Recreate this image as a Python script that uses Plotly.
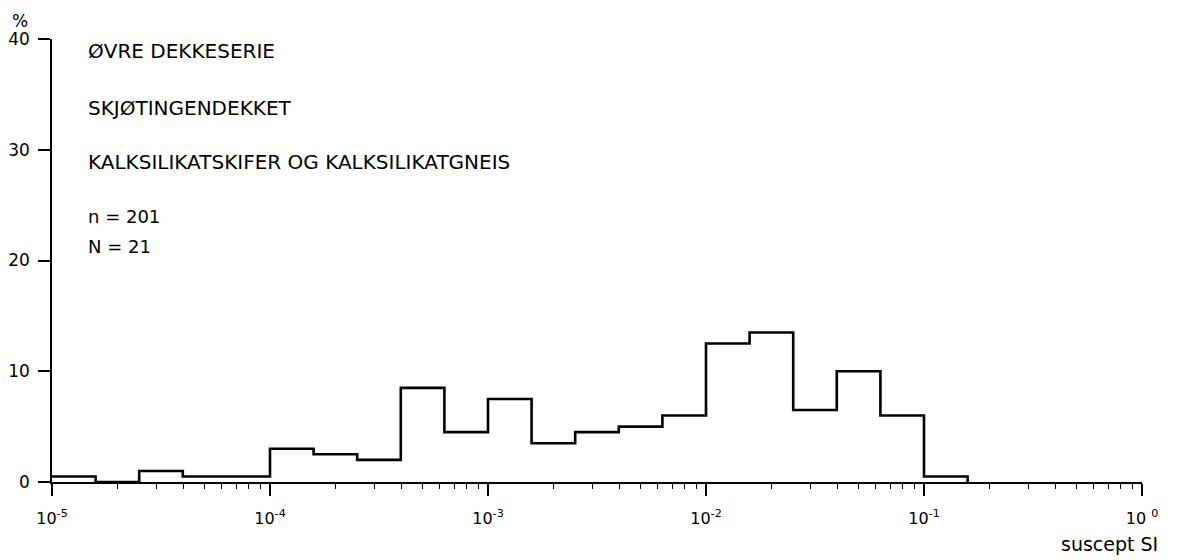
import plotly.graph_objects as go

# Bin edges (log10 of susceptibility, SI), 0.2-decade classes
bin_edges_log = [-5.0, -4.8, -4.6, -4.4, -4.2, -4.0, -3.8, -3.6, -3.4, -3.2,
                 -3.0, -2.8, -2.6, -2.4, -2.2, -2.0, -1.8, -1.6, -1.4, -1.2,
                 -1.0, -0.8]
# Percentage of samples in each class
percent = [0.5, 0.0, 1.0, 0.5, 0.5, 3.0, 2.5, 2.0, 8.5, 4.5,
           7.5, 3.5, 4.5, 5.0, 6.0, 12.5, 13.5, 6.5, 10.0, 6.0,
           0.5]

decade_exponents = [-5, -4, -3, -2, -1, 0]
decade_labels = ["10<sup>-5</sup>", "10<sup>-4</sup>", "10<sup>-3</sup>",
                 "10<sup>-2</sup>", "10<sup>-1</sup>", "10 <sup>0</sup>"]
y_ticks = [0, 10, 20, 30, 40]

title_lines = ["ØVRE DEKKESERIE", "SKJØTINGENDEKKET",
               "KALKSILIKATSKIFER OG KALKSILIKATGNEIS"]
count_lines = ["n = 201", "N = 21"]

FONT = "DejaVu Sans"

edges = [10 ** e for e in bin_edges_log]
step_y = percent + [0.0]

major_vals = [10.0 ** e for e in decade_exponents]
minor_vals = [m * 10.0 ** e for e in decade_exponents[:-1] for m in range(2, 10)]

fig = go.Figure()
fig.add_trace(go.Scatter(
    x=edges, y=step_y, mode="lines", line_shape="hv",
    line=dict(color="#000000", width=2.6), showlegend=False, hoverinfo="skip",
))

fig.update_xaxes(
    type="log", range=[-5, 0], automargin=False,
    showline=True, linecolor="#000", linewidth=1.5,
    showgrid=False, zeroline=False,
    tickmode="array", tickvals=major_vals, ticktext=decade_labels,
    ticks="outside", ticklen=12, tickwidth=1.5, tickcolor="#000",
    ticklabelstandoff=9,
    tickfont=dict(family=FONT, size=16, color="#000"),
    minor=dict(tickmode="array", tickvals=minor_vals, ticks="outside",
               ticklen=5, tickwidth=1.2, tickcolor="#000", showgrid=False),
)
fig.update_yaxes(
    range=[0, 40], automargin=False,
    showline=True, linecolor="#000", linewidth=1.5,
    showgrid=False, zeroline=False,
    tickmode="array", tickvals=y_ticks,
    ticks="outside", ticklen=12, tickwidth=1.5, tickcolor="#000",
    ticklabelstandoff=5,
    tickfont=dict(family=FONT, size=17, color="#000"),
)

# Header text block
for line, yv in zip(title_lines, [38.9, 33.8, 28.9]):
    fig.add_annotation(x=0.031, xref="paper", y=yv, yref="y", text=line,
                       showarrow=False, xanchor="left", yanchor="middle",
                       font=dict(family=FONT, size=20, color="#000"))
for line, yv in zip(count_lines, [24.0, 21.3]):
    fig.add_annotation(x=0.031, xref="paper", y=yv, yref="y", text=line,
                       showarrow=False, xanchor="left", yanchor="middle",
                       font=dict(family=FONT, size=18, color="#000"))

# Axis unit labels
fig.add_annotation(x=-0.029, xref="paper", y=1.04, yref="paper", text="%",
                   showarrow=False, xanchor="center", yanchor="middle",
                   font=dict(family=FONT, size=17, color="#000"))
fig.add_annotation(x=1.0165, xref="paper", y=-0.14, yref="paper", text="suscept SI",
                   showarrow=False, xanchor="right", yanchor="middle",
                   font=dict(family=FONT, size=19, color="#000"))

fig.update_layout(
    width=1181, height=560,
    margin=dict(l=52, r=39, t=39, b=78),
    paper_bgcolor="white", plot_bgcolor="white",
    showlegend=False,
)

fig.write_html("out.html")
